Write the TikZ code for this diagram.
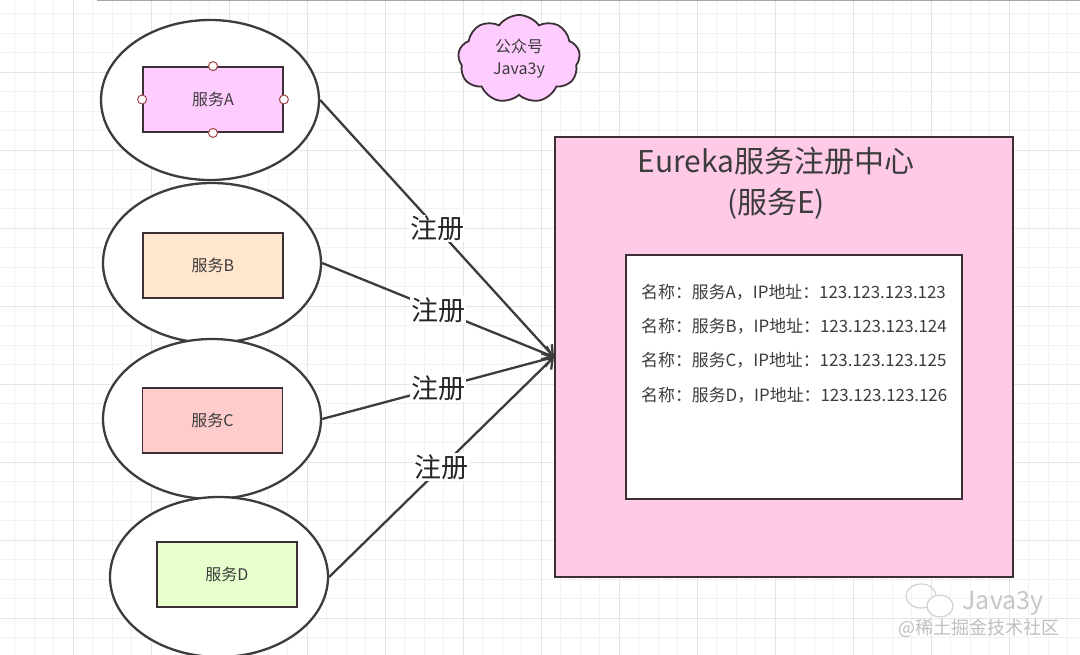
\documentclass[tikz,border=0pt]{standalone}
\usepackage{fontspec}
\setmainfont{Noto Sans CJK SC}
\usetikzlibrary{shapes.geometric,shapes.symbols,arrows.meta}
\definecolor{lineGray}{HTML}{3C3C3C}
\definecolor{boxEdge}{HTML}{3A3035}
\definecolor{textGray}{HTML}{3C3C3C}
\definecolor{portRed}{HTML}{A0454A}
\definecolor{fillA}{HTML}{FFCCFF}
\definecolor{fillB}{HTML}{FFE6CC}
\definecolor{fillC}{HTML}{FFCCCC}
\definecolor{fillD}{HTML}{E6FFCC}
\definecolor{fillE}{HTML}{FFCAE6}
\begin{document}
\begin{tikzpicture}[x=1pt,y=-1pt,
    svcring/.style={ellipse,draw=lineGray,line width=2.3pt,fill=white,minimum width=218pt,minimum height=160pt,inner sep=0pt},
    svcbox/.style={draw=boxEdge,line width=1.8pt,minimum width=140pt,minimum height=65pt,inner sep=0pt,font=\fontsize{16}{19}\selectfont,text=textGray},
    port/.style={circle,draw=portRed,fill=white,line width=1pt,minimum size=9pt,inner sep=0pt},
    reglink/.style={draw=lineGray,line width=2.3pt,-{Straight Barb[length=9pt,width=14pt]}},
    reglabel/.style={fill=white,inner sep=1pt,font=\fontsize{27}{30}\selectfont,text=black!85},
    entry/.style={anchor=west,inner sep=0pt,font=\fontsize{16.9}{19}\selectfont,text=textGray}]
    % background and grid
    \useasboundingbox (0,0) rectangle (1080,655);
    \fill[white] (0,0) rectangle (1080,655);
    \foreach \gx in {14.5,34,...,1080} \draw[gray!10,line width=0.8pt] (\gx,0) -- (\gx,655);
    \foreach \gy in {13.5,33,...,655} \draw[gray!10,line width=0.8pt] (0,\gy) -- (1080,\gy);
    \foreach \gx in {73,151,...,1080} \draw[gray!20,line width=0.8pt] (\gx,0) -- (\gx,655);
    \foreach \gy in {72,150,...,655} \draw[gray!20,line width=0.8pt] (0,\gy) -- (1080,\gy);
    \draw[gray!70,line width=2pt] (97,0.5) -- (1080,0.5);

    % services
    \node[svcring] (ringA) at (210,100) {};
    \node[svcring] (ringB) at (212,263) {};
    \node[svcring] (ringC) at (212,419) {};
    \node[svcring] (ringD) at (219,577) {};

    \node[svcbox,fill=fillA] (svcA) at (213,99.5) {服务A};
    \node[svcbox,fill=fillB] (svcB) at (213,265.5) {服务B};
    \node[svcbox,fill=fillC] (svcC) at (212.5,420.5) {服务C};
    \node[svcbox,fill=fillD] (svcD) at (227,574.5) {服务D};
    \foreach \a in {north,south,east,west}
        \node[port] at (svcA.\a) {};

    % eureka server
    \node[draw=boxEdge,line width=2pt,fill=fillE,minimum width=458pt,minimum height=440pt] (eureka) at (784,357) {};
    \node[align=center,font=\fontsize{30}{41}\selectfont,text=textGray] (eurekaTitle) at (776,183) {Eureka服务注册中心\\(服务E)};
    \node[draw=boxEdge,line width=2pt,fill=white,minimum width=336pt,minimum height=244pt] (registry) at (794,377) {};
    \foreach \s/\ip [count=\i from 0] in {A/123,B/124,C/125,D/126}
        \node[entry] (entry\s) at (641,{292+34.3*\i}) {名称：服务\s，IP地址：123.123.123.\ip};

    % registrations
    \draw[reglink] (ringA.east) -- node[reglabel] {注册} (eureka.west);
    \draw[reglink] (ringB.east) -- node[reglabel] {注册} (eureka.west);
    \draw[reglink] (ringC.east) -- node[reglabel] {注册} (eureka.west);
    \draw[reglink] (ringD.east) -- node[reglabel] {注册} (eureka.west);

    % cloud
    \node[cloud,cloud puffs=9,cloud puff arc=110,aspect=1.35,draw=boxEdge,line width=1.8pt,fill=fillA,minimum width=122pt,minimum height=88pt,inner sep=0pt,align=center,font=\fontsize{16}{22}\selectfont,text=textGray] (account) at (519,59) {公众号\\Java3y};

    % watermark
    \draw[gray!35,line width=1.2pt] (921,596) ellipse (15pt and 12pt);
    \draw[gray!35,line width=1.2pt,fill=white] (940,606) ellipse (13pt and 11pt);
    \node[text=gray!45,font=\fontsize{25}{27}\selectfont] (wmName) at (1003,603) {Java3y};
    \node[text=gray!50,font=\fontsize{18}{20}\selectfont] (wmSite) at (979,628) {@稀土掘金技术社区};
\end{tikzpicture}
\end{document}
